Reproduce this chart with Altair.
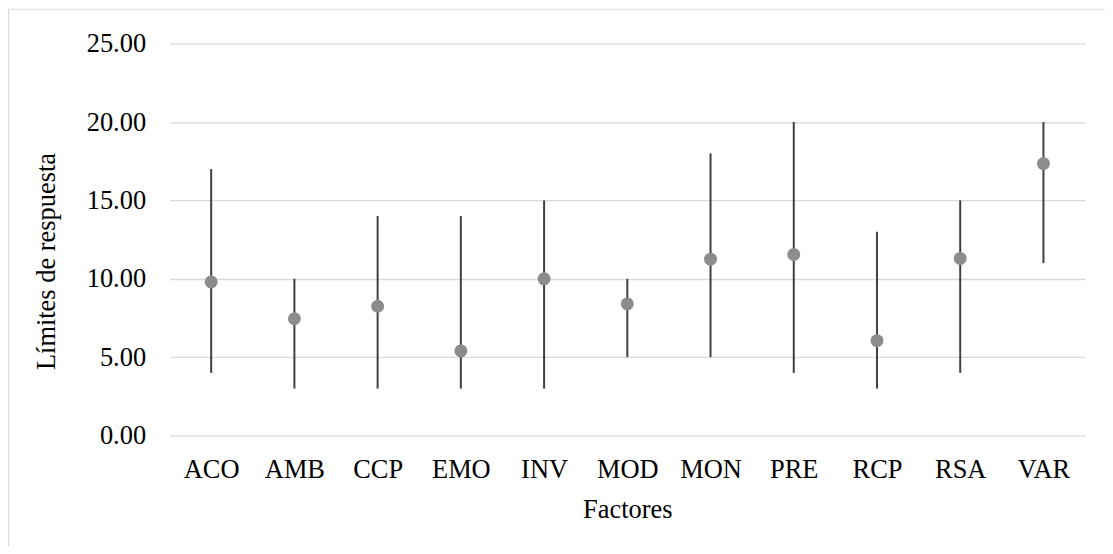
import altair as alt
import pandas as pd

factores = ["ACO", "AMB", "CCP", "EMO", "INV", "MOD", "MON", "PRE", "RCP", "RSA", "VAR"]
minimos = [4, 3, 3, 3, 3, 5, 5, 4, 3, 4, 11]
maximos = [17, 10, 14, 14, 15, 10, 18, 20, 13, 15, 20]
medias = [9.8, 7.45, 8.25, 5.4, 10.0, 8.4, 11.25, 11.55, 6.05, 11.3, 17.35]
y_ticks = [0, 5, 10, 15, 20, 25]

df = pd.DataFrame({"factor": factores, "min": minimos, "max": maximos, "media": medias})
borde = pd.DataFrame({"b": [0]})

FONT = "Liberation Serif"
FS = 26.5

x_axis = alt.Axis(
    title="Factores", labelAngle=0, ticks=False, tickSize=0, domain=False, grid=False,
    labelPadding=21, labelFont=FONT, labelFontSize=FS, labelColor="#000000",
    titleFont=FONT, titleFontSize=FS, titleFontWeight="normal", titleColor="#000000",
    titleY=82, titleBaseline="alphabetic",
)
y_axis = alt.Axis(
    title="Límites de respuesta", values=y_ticks, format=".2f", ticks=False, tickSize=0,
    domain=False, grid=True, gridColor="#d9d9d9", gridWidth=1.3, labelPadding=24,
    labelFont=FONT, labelFontSize=FS, labelColor="#000000",
    titleFont=FONT, titleFontSize=FS, titleFontWeight="normal", titleColor="#000000",
    titleX=-115, titleY=218, titleAlign="center", titleBaseline="alphabetic", titleAngle=270,
)

x_enc = alt.X("factor:N", sort=factores, scale=alt.Scale(type="point", padding=0.5), axis=x_axis)
y_scale = alt.Scale(domain=[0, 25], nice=False, zero=True)

frame = alt.Chart(borde).mark_rect(fillOpacity=0, stroke="#d9d9d9", strokeWidth=1.2).encode(
    x=alt.value(-161.5), x2=alt.value(3000), y=alt.value(-34.5), y2=alt.value(3000)
)

rules = alt.Chart(df).mark_rule(color="#404040", strokeWidth=2).encode(
    x=x_enc,
    y=alt.Y("min:Q", scale=y_scale, axis=y_axis),
    y2="max:Q",
)

points = alt.Chart(df).mark_circle(color="#8c8c8c", opacity=1, size=170).encode(
    x=x_enc,
    y=alt.Y("media:Q", scale=y_scale, axis=y_axis),
)

chart = alt.layer(frame, rules, points).properties(
    width=918,
    height=393,
    padding={"left": 162, "top": 35, "right": 20, "bottom": 110},
    autosize=alt.AutoSizeParams(type="none"),
    background="#ffffff",
).configure_view(stroke="transparent")

chart.save("out.html", embed_options={"renderer": "svg", "actions": False})
